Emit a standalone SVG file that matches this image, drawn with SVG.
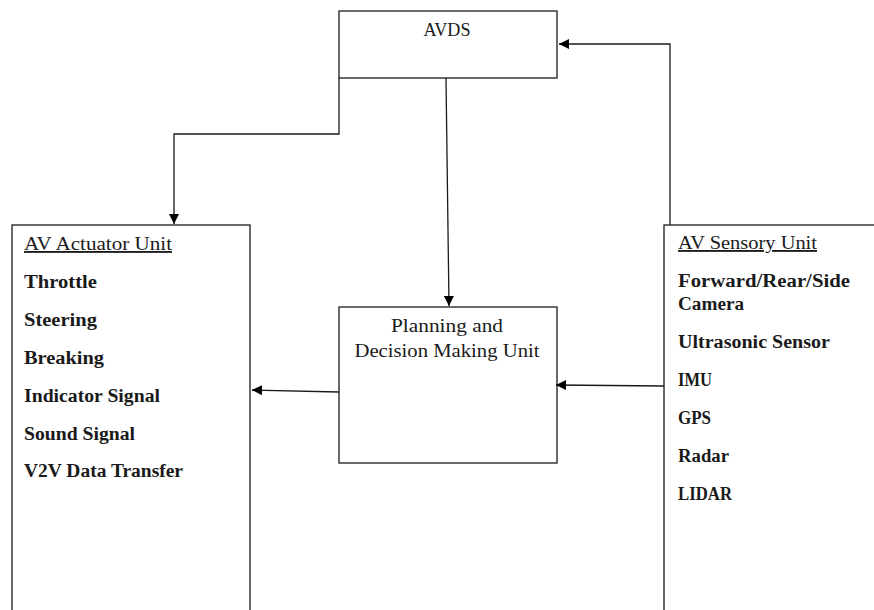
<svg xmlns="http://www.w3.org/2000/svg" width="874" height="610" viewBox="0 0 874 610">
  <style>
    .box { fill: #ffffff; stroke: #1a1a1a; stroke-width: 1.3; }
    .link { fill: none; stroke: #1a1a1a; stroke-width: 1.3; }
    .t { font-family: "Liberation Serif", "DejaVu Serif", serif; font-size: 18.5px; fill: #1a1a1a; }
    .h { text-decoration: underline; }
    .b { font-weight: bold; }
    .c { text-anchor: middle; }
  </style>
  <defs>
    <marker id="arrow" viewBox="0 0 10 10" refX="10" refY="5" markerWidth="10" markerHeight="10" markerUnits="userSpaceOnUse" orient="auto">
      <path d="M0,0 L10,5 L0,10 z" fill="#000000"/>
    </marker>
  </defs>
  <rect width="874" height="610" fill="#ffffff"/>

  <g id="avds">
    <rect class="box" x="339" y="11" width="218" height="67"/>
    <text class="t c" x="447" y="36" textLength="47" lengthAdjust="spacingAndGlyphs">AVDS</text>
  </g>

  <g id="actuator-unit">
    <rect class="box" x="12" y="225" width="238" height="400"/>
    <text class="t h" x="24" y="250" textLength="148" lengthAdjust="spacingAndGlyphs">AV Actuator Unit</text>
    <text class="t b" x="24" y="288" textLength="73" lengthAdjust="spacingAndGlyphs">Throttle</text>
    <text class="t b" x="24" y="326" textLength="73" lengthAdjust="spacingAndGlyphs">Steering</text>
    <text class="t b" x="24" y="364" textLength="80" lengthAdjust="spacingAndGlyphs">Breaking</text>
    <text class="t b" x="24" y="402" textLength="136" lengthAdjust="spacingAndGlyphs">Indicator Signal</text>
    <text class="t b" x="24" y="440" textLength="111" lengthAdjust="spacingAndGlyphs">Sound Signal</text>
    <text class="t b" x="24" y="477" textLength="159" lengthAdjust="spacingAndGlyphs">V2V Data Transfer</text>
  </g>

  <g id="planning-unit">
    <rect class="box" x="339" y="307" width="218" height="156"/>
    <text class="t c" x="447" y="332" textLength="112" lengthAdjust="spacingAndGlyphs">Planning and</text>
    <text class="t c" x="447" y="357" textLength="185" lengthAdjust="spacingAndGlyphs">Decision Making Unit</text>
  </g>

  <g id="sensory-unit">
    <rect class="box" x="664" y="225" width="240" height="400"/>
    <text class="t h" x="678" y="249" textLength="139" lengthAdjust="spacingAndGlyphs">AV Sensory Unit</text>
    <text class="t b" x="678" y="287" textLength="172" lengthAdjust="spacingAndGlyphs">Forward/Rear/Side</text>
    <text class="t b" x="678" y="310" textLength="66" lengthAdjust="spacingAndGlyphs">Camera</text>
    <text class="t b" x="678" y="348" textLength="152" lengthAdjust="spacingAndGlyphs">Ultrasonic Sensor</text>
    <text class="t b" x="678" y="386" textLength="34" lengthAdjust="spacingAndGlyphs">IMU</text>
    <text class="t b" x="678" y="424" textLength="33" lengthAdjust="spacingAndGlyphs">GPS</text>
    <text class="t b" x="678" y="462" textLength="51" lengthAdjust="spacingAndGlyphs">Radar</text>
    <text class="t b" x="678" y="500" textLength="54" lengthAdjust="spacingAndGlyphs">LIDAR</text>
  </g>

  <g id="connectors">
    <polyline class="link" points="670,225 670,44 559,44" marker-end="url(#arrow)"/>
    <polyline class="link" points="339,78 339,134 174,134 174,224" marker-end="url(#arrow)"/>
    <line class="link" x1="446" y1="78" x2="449" y2="306" marker-end="url(#arrow)"/>
    <line class="link" x1="339" y1="392" x2="252" y2="390" marker-end="url(#arrow)"/>
    <line class="link" x1="664" y1="386" x2="556" y2="385" marker-end="url(#arrow)"/>
  </g>
</svg>
